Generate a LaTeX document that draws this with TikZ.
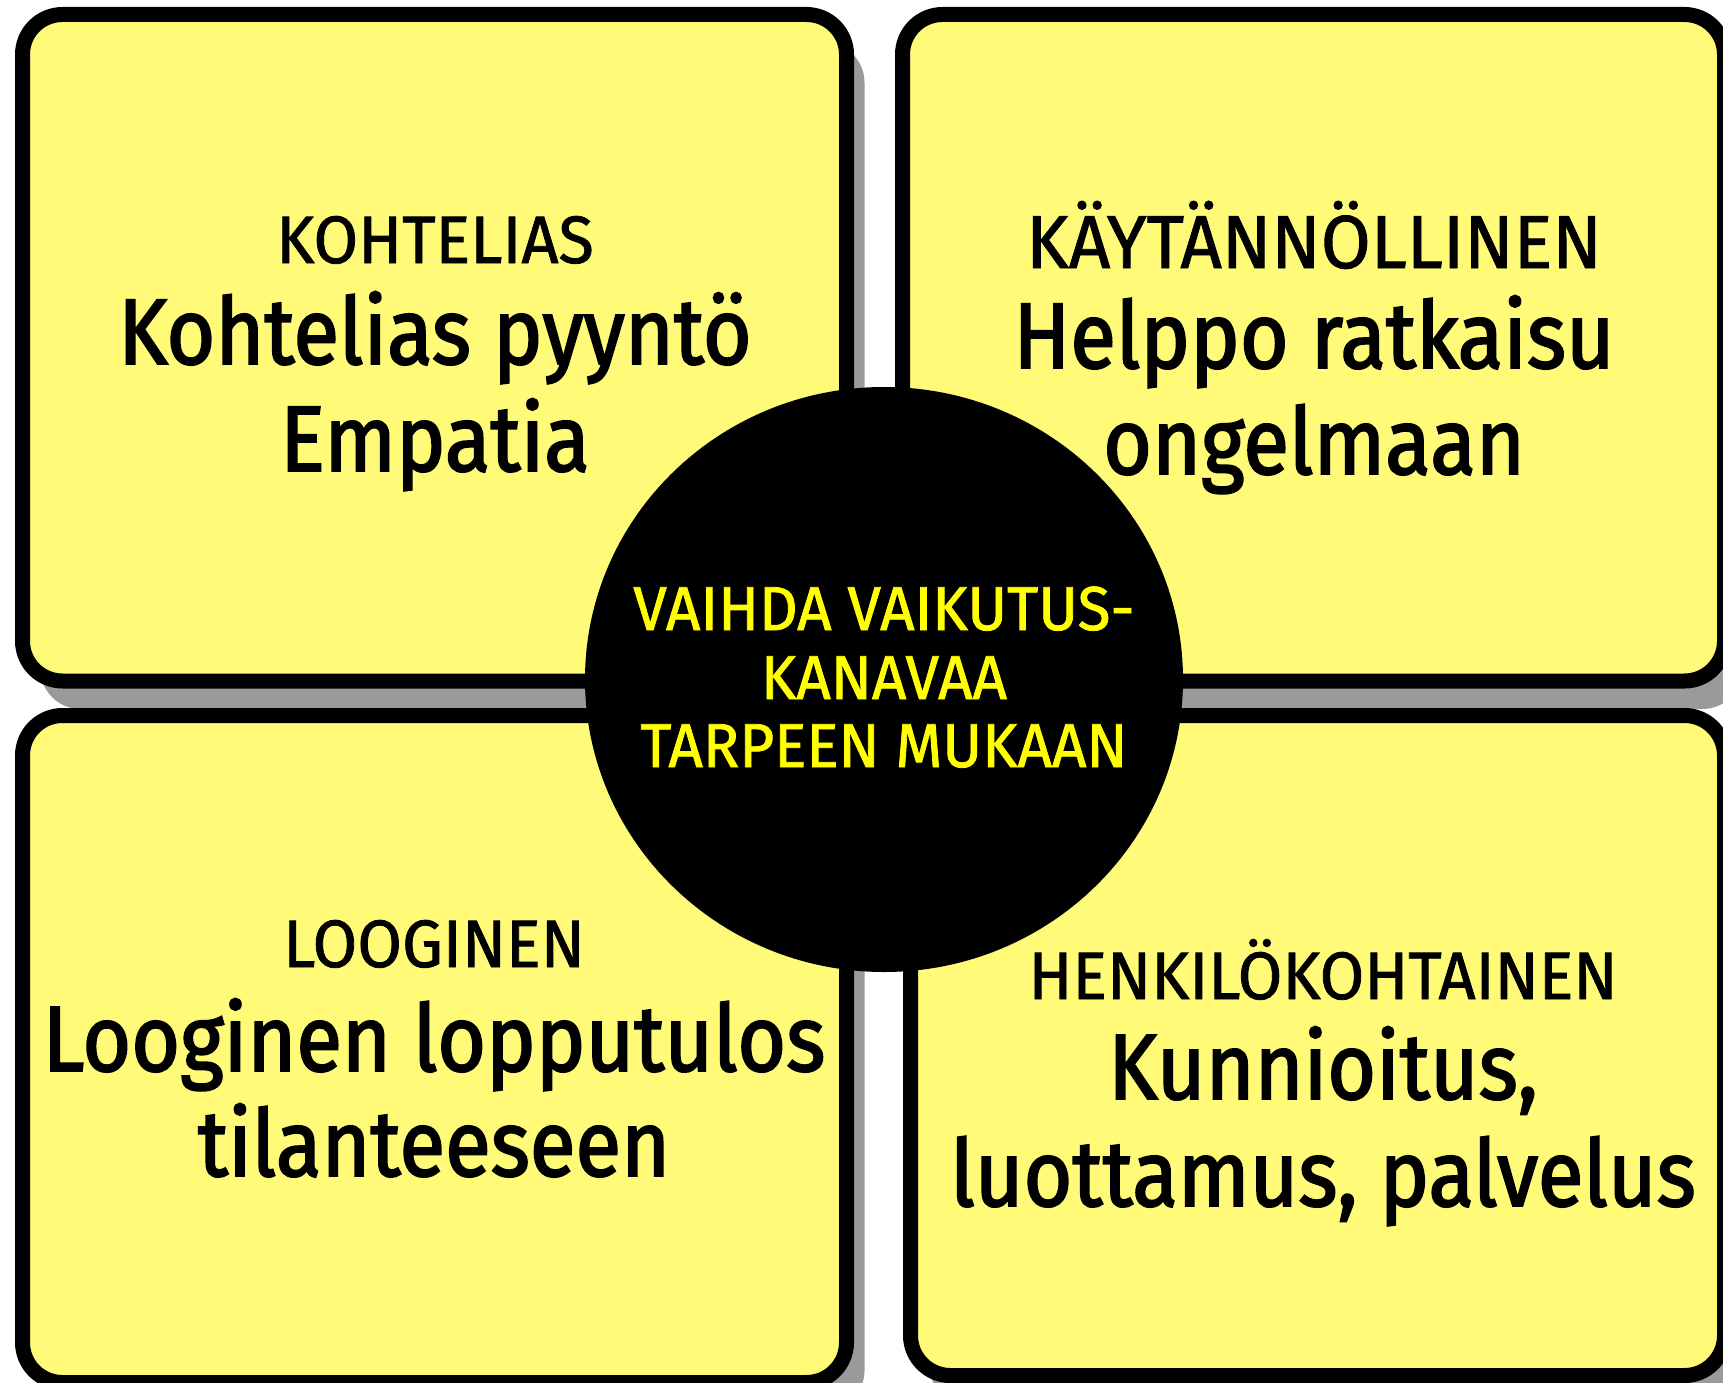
\documentclass[tikz,border=0pt]{standalone}
\usepackage{fontspec}
\setmainfont{Fira Sans}[FakeStretch=0.9]
\newfontfamily\titlefont{Fira Sans}[FakeStretch=0.965,FakeBold=1.2]
\newfontfamily\ctrfont{Fira Sans}[FakeStretch=0.97,FakeBold=1.3]
\newfontfamily\bigfont{Fira Sans}[FakeStretch=0.9,FakeBold=2.0]
\usetikzlibrary{shadows,shapes.geometric}
\definecolor{boxyellow}{HTML}{FFFA78}
\definecolor{shadowgray}{HTML}{9A9A9A}
\definecolor{textyellow}{HTML}{FFFF00}
\begin{document}
\begin{tikzpicture}[x=1pt,y=-1pt,
  panel/.style={draw=black, line width=15pt, fill=boxyellow, rounded corners=40pt,
    inner sep=0pt, outer sep=0pt,
    drop shadow={shadow xshift=18pt, shadow yshift=-28pt, fill=shadowgray, opacity=1}},
  ttl/.style={anchor=base, inner sep=0pt, font=\titlefont\fontsize{67}{67}\selectfont},
  bigttl/.style={anchor=base, inner sep=0pt, font=\titlefont\fontsize{75}{75}\selectfont},
  big/.style={anchor=base, inner sep=0pt, font=\bigfont\fontsize{93}{93}\selectfont},
  ctr/.style={anchor=base, inner sep=0pt, text=textyellow, font=\ctrfont\fontsize{62}{62}\selectfont}]
\useasboundingbox (0,0) rectangle (1723,1383);
\clip (0,0) rectangle (1723,1383);
% panels
\node[panel, minimum width=824pt, minimum height=666.5pt] (tl) at (434.5,347.75) {};
\node[panel, minimum width=822pt, minimum height=666.5pt] (tr) at (1313.5,347.75) {};
\node[panel, minimum width=824pt, minimum height=667pt] (bl) at (434.5,1049) {};
\node[panel, minimum width=814pt, minimum height=660pt] (br) at (1317.5,1045.5) {};
% centre disc
\node[ellipse, fill=black, minimum width=598pt, minimum height=585pt, inner sep=0pt] (hub) at (884,679.5) {};
% top left
\node[ttl] (tl1) at (435,263) {KOHTELIAS};
\node[big] (tl2) at (435,364) {Kohtelias pyyntö};
\node[big] (tl3) at (435,471) {Empatia};
% top right
\node[bigttl] (tr1) at (1314,268) {KÄYTÄNNÖLLINEN};
\node[big] (tr2) at (1314,368) {Helppo ratkaisu};
\node[big] (tr3) at (1314,474) {ongelmaan};
% bottom left
\node[ttl] (bl1) at (434,967) {LOOGINEN};
\node[big] (bl2) at (434,1071) {Looginen lopputulos};
\node[big] (bl3) at (434,1176) {tilanteeseen};
% bottom right
\node[ttl] (br1) at (1323,999) {HENKILÖKOHTAINEN};
\node[big] (br2) at (1323,1099) {Kunnioitus,};
\node[big] (br3) at (1323,1206) {luottamus, palvelus};
% centre text
\node[ctr] (c1) at (884,630) {VAIHDA VAIKUTUS-};
\node[ctr] (c2) at (884,699) {KANAVAA};
\node[ctr] (c3) at (884,767) {TARPEEN MUKAAN};
\end{tikzpicture}
\end{document}
